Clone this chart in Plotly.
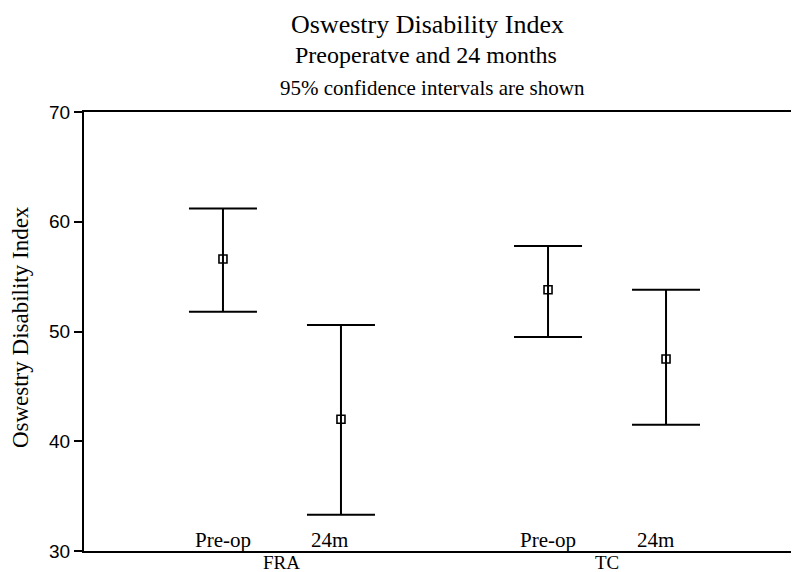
import plotly.graph_objects as go

# ---- data ----
groups = ["FRA", "TC"]
timepoints = ["Pre-op", "24m"]
mean_fra = [56.6, 42.0]
upper_fra = [61.2, 50.6]
lower_fra = [51.8, 33.3]
mean_tc = [53.8, 47.5]
upper_tc = [57.8, 53.8]
lower_tc = [49.5, 41.5]
y_ticks = [30, 40, 50, 60, 70]

group_pos = [1, 2]
offset = 0.1815  # within-group offset (layout)

SERIF = "Liberation Serif, Times New Roman, serif"
SANS = "Liberation Sans, Arial, sans-serif"

fig = go.Figure()

series = [(mean_fra, upper_fra, lower_fra), (mean_tc, upper_tc, lower_tc)]
xs, ys, ups, los, labs = [], [], [], [], []
for gi, (m, u, l) in enumerate(series):
    for ti in range(len(timepoints)):
        xs.append(group_pos[gi] + (-offset if ti == 0 else offset))
        ys.append(m[ti])
        ups.append(u[ti] - m[ti])
        los.append(m[ti] - l[ti])
        labs.append(timepoints[ti])

fig.add_trace(go.Scatter(
    x=xs, y=ys, mode="markers",
    marker=dict(symbol="square-open", size=8, color="black", line=dict(width=1.6, color="black")),
    error_y=dict(type="data", symmetric=False, array=ups, arrayminus=los,
                 color="black", thickness=2, width=34),
    showlegend=False, hoverinfo="skip",
))

annotations = []
# time point labels just above the x-axis
for x, lab in zip(xs, labs):
    annotations.append(dict(
        x=x, xref="x", y=0, yref="paper", yanchor="bottom", xanchor="center",
        xshift=0 if lab == "Pre-op" else -11, yshift=-3,
        text=lab, showarrow=False, font=dict(family=SERIF, size=21, color="black")))
# group labels below the axis
for gx, g in zip(group_pos, groups):
    annotations.append(dict(
        x=gx, xref="x", y=0, yref="paper", yanchor="top", xanchor="center", yshift=1,
        text=g, showarrow=False, font=dict(family=SERIF, size=19, color="black")))

W0, PW, T0, PH = 76, 721, 104, 439

def px(pix):
    return (pix - W0) / PW

def py(pix):
    return 1 + (T0 - pix) / PH

annotations += [
    dict(x=px(419), xref="paper", y=py(0.5), yref="paper", text="Oswestry Disability Index",
         showarrow=False, xanchor="center", yanchor="top",
         font=dict(family=SERIF, size=26, color="black")),
    dict(x=px(418), xref="paper", y=py(47), yref="paper", text="Preoperatve and 24 months",
         showarrow=False, xanchor="center", yanchor="middle",
         font=dict(family=SERIF, size=24, color="black")),
    dict(x=px(424), xref="paper", y=py(80), yref="paper", text="95% confidence intervals are shown",
         showarrow=False, xanchor="center", yanchor="middle",
         font=dict(family=SERIF, size=21, color="black")),
    dict(x=px(12), xref="paper", y=0.51, yref="paper", text="Oswestry Disability Index",
         showarrow=False, xanchor="center", yanchor="middle", textangle=-90,
         font=dict(family=SERIF, size=23, color="black")),
]

fig.update_layout(
    width=799, height=572,
    margin=dict(l=W0, r=2, t=T0, b=29),
    paper_bgcolor="white", plot_bgcolor="white",
    annotations=annotations,
    xaxis=dict(range=[0.391, 2.609], showgrid=False, zeroline=False, showticklabels=False,
               ticks="", showline=True, linecolor="black", linewidth=2, mirror=True,
               automargin=False),
    yaxis=dict(range=[30, 70], tickvals=y_ticks, showgrid=False, zeroline=False,
               ticks="outside", ticklen=8, tickwidth=2, tickcolor="black",
               showline=True, linecolor="black", linewidth=2, mirror=True,
               automargin=False,
               tickfont=dict(family=SANS, size=19, color="black")),
)

fig.write_html("out.html")
